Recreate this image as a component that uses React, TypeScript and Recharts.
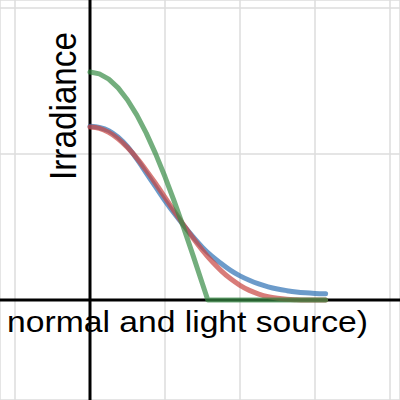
import React from 'react';
import { LineChart, Line, XAxis, YAxis, CartesianGrid, ReferenceLine, Customized } from 'recharts';

// angle (radians) samples for the smooth curves
const angles = [
    0, 0.125, 0.25, 0.375, 0.5, 0.625, 0.75, 0.875, 1, 1.125, 1.25, 1.375, 1.5,
    1.625, 1.75, 1.875, 2, 2.125, 2.25, 2.375, 2.5, 2.625, 2.75, 2.875, 3, 3.1416,
];
const redValues = [
    1.185, 1.176, 1.148, 1.104, 1.044, 0.972, 0.888, 0.798, 0.703, 0.607, 0.513, 0.423, 0.34,
    0.265, 0.2, 0.145, 0.101, 0.066, 0.041, 0.023, 0.012, 0.005, 0.002, 0.0004, 0, 0,
];
const blueValues = [
    1.19, 1.182, 1.16, 1.115, 1.05, 0.965, 0.87, 0.775, 0.68, 0.592, 0.51, 0.432, 0.36,
    0.3, 0.25, 0.203, 0.165, 0.135, 0.11, 0.09, 0.075, 0.064, 0.055, 0.049, 0.045, 0.042,
];

// green (lambert) curve, with its own samples because of the corner
const greenAngles = [0, 0.125, 0.25, 0.375, 0.5, 0.625, 0.75, 0.875, 1, 1.125, 1.25, 1.375, 1.5, 1.5708, 3.1416];
const greenValues = [1.562, 1.549, 1.513, 1.453, 1.37, 1.266, 1.143, 1.001, 0.844, 0.673, 0.492, 0.304, 0.11, 0, 0];

const xTicks = [-1, 0, 1, 2, 3, 4];
const yTicks = [0, 1, 2];

const yLabel = 'Irradiance';
const xLabel = 'normal and light source)';

const curveData = angles.map((a, i) => ({ x: a, red: redValues[i], blue: blueValues[i] }));
const greenData = greenAngles.map((a, i) => ({ x: a, green: greenValues[i] }));

const FONT = '"Liberation Sans", Arial, sans-serif';

function Labels() {
    return (
        <g>
            <text
                x={76}
                y={106}
                transform="rotate(-90, 76, 106)"
                textAnchor="middle"
                fontFamily={FONT}
                fontSize={36}
                fill="#000"
                textLength={148}
                lengthAdjust="spacingAndGlyphs"
            >
                {yLabel}
            </text>
            <text
                x={7}
                y={332}
                fontFamily={FONT}
                fontSize={30}
                fill="#000"
                textLength={361}
                lengthAdjust="spacingAndGlyphs"
            >
                {xLabel}
            </text>
        </g>
    );
}

export default function App() {
    return (
        <div style={{ position: 'fixed', left: 0, top: 0, width: 400, height: 400, background: '#fff' }}>
            <LineChart width={400} height={400} data={curveData} margin={{ top: 0, right: 0, bottom: 0, left: 0 }}>
                <XAxis dataKey="x" type="number" domain={[-1.2, 4.1333]} ticks={xTicks} hide allowDataOverflow />
                <YAxis type="number" domain={[-0.685, 2.055]} ticks={yTicks} hide allowDataOverflow />
                <CartesianGrid stroke="#dcdcdc" strokeWidth={1.5} />
                <ReferenceLine x={0} stroke="#000" strokeWidth={3} />
                <ReferenceLine y={0} stroke="#000" strokeWidth={3} />
                <Line
                    dataKey="blue"
                    type="monotone"
                    stroke="#2d70b3"
                    strokeOpacity={0.7}
                    strokeWidth={5}
                    strokeLinecap="round"
                    dot={false}
                    activeDot={false}
                    isAnimationActive={false}
                />
                <Line
                    dataKey="red"
                    type="monotone"
                    stroke="#c74440"
                    strokeOpacity={0.7}
                    strokeWidth={5}
                    strokeLinecap="round"
                    dot={false}
                    activeDot={false}
                    isAnimationActive={false}
                />
                <Line
                    data={greenData}
                    dataKey="green"
                    type="linear"
                    stroke="#388c46"
                    strokeOpacity={0.7}
                    strokeWidth={5}
                    strokeLinecap="round"
                    strokeLinejoin="round"
                    dot={false}
                    activeDot={false}
                    isAnimationActive={false}
                />
                <Customized component={Labels} />
            </LineChart>
        </div>
    );
}
